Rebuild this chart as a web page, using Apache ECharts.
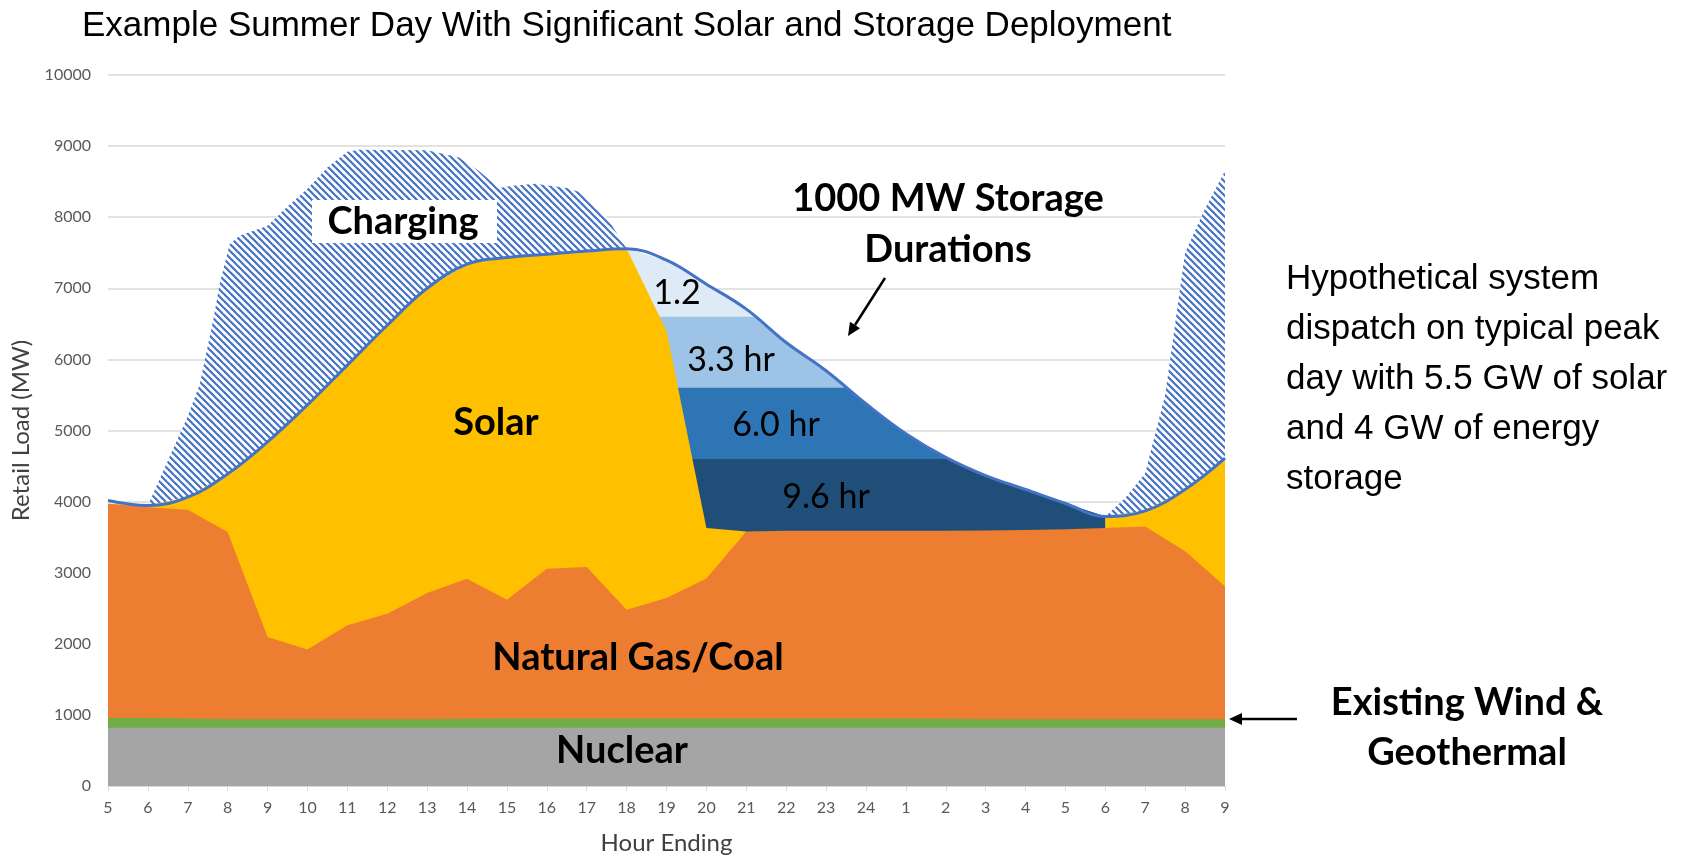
<!DOCTYPE html>
<html>
<head>
<meta charset="utf-8">
<title>Example Summer Day With Significant Solar and Storage Deployment</title>
<script src="https://cdn.jsdelivr.net/npm/echarts@6/dist/echarts.min.js"></script>
<style>
  html, body { margin: 0; padding: 0; background: #fff; }
  #chart { width: 1695px; height: 857px; }
</style>
</head>
<body>
<div id="chart"></div>
<script>
  // x position = index into hourLabels (hour ending, 5am day 1 .. 9am day 2)
  var hourLabels = ['5','6','7','8','9','10','11','12','13','14','15','16','17','18','19','20',
                    '21','22','23','24','1','2','3','4','5','6','7','8','9'];

  // retail load (the blue line), MW
  var loadMW = [4015, 3945, 4062, 4390, 4840, 5360, 5920, 6480, 7000, 7339, 7432, 7479, 7525, 7555,
                7395, 7058, 6707, 6238, 5841, 5377, 4956, 4623, 4366, 4170, 3973, 3790, 3870, 4170, 4610];

  // tops of the generation layers, MW
  var nuclearMW = [820, 820, 820, 820, 820, 820, 820, 820, 820, 820, 820, 820, 820, 820, 820,
                   820, 820, 820, 820, 820, 820, 820, 820, 820, 820, 820, 820, 820, 820];
  var windGeoMW = [955, 955, 950, 940, 940, 940, 940, 940, 940, 945, 950, 950, 950, 950, 950,
                   950, 950, 950, 950, 950, 950, 945, 940, 940, 940, 940, 940, 940, 940];
  var gasCoalMW = [3969, 3922, 3885, 3571, 2097, 1919, 2260, 2424, 2714, 2916, 2621, 3056, 3079, 2480,
                   2645, 2918, 3580, 3590, 3590, 3590, 3590, 3590, 3595, 3600, 3610, 3630, 3650, 3300, 2810];
  // solar top (null = no solar), follows the load in daylight, drops after 18
  var solarMW = [3969, 3945, 4062, 4390, 4840, 5360, 5920, 6480, 7000, 7339, 7432, 7479, 7525, 7555,
                 6400, 3630, 3580, null, null, null, null, null, null, null, null, 3790, 3870, 4170, 4610];

  // charging envelope (hatched), [x, MW]
  var chargeAM = [[1, 3945], [1.2, 4200], [2, 5200], [2.3, 5650], [2.65, 6590], [2.8, 7060], [3.05, 7620],
                  [3.3, 7740], [4, 7880], [4.5, 8150], [5, 8400], [5.5, 8700], [6, 8920], [6.3, 8950],
                  [8, 8940], [8.8, 8840], [9.3, 8650], [9.8, 8410], [10.1, 8440], [10.7, 8470],
                  [11.5, 8410], [11.9, 8340], [12.15, 8180], [12.5, 8000], [13, 7555]];
  var chargePM = [[25, 3790], [25.5, 4050], [26, 4400], [26.5, 5500], [27, 7500], [27.5, 8120], [28, 8650]];

  // storage discharge bands: flat tops until they meet the load line
  var bandNames = ['3.3 hr', '6.0 hr', '9.6 hr'];
  var bandLevels = [6600, 5600, 4600];
  var bandEnds = [16.23, 18.52, 21.09];
  var bandColors = ['#9dc3e6', '#2e75b6', '#1f4e79'];

  function pairs(arr, start) {
    return arr.map(function (v, i) { return [start + i, v]; });
  }
  function bandData(level, end) {
    var d = [[13, level], [end, level]];
    for (var i = Math.ceil(end); i <= 25; i++) d.push([i, loadMW[i]]);
    return d;
  }
  function hatch() {
    var c = document.createElement('canvas');
    c.width = c.height = 7;
    var g = c.getContext('2d');
    g.fillStyle = '#fff';
    g.fillRect(0, 0, 7, 7);
    g.strokeStyle = '#4472c4';
    g.lineWidth = 2.2;
    for (var k = -1; k <= 1; k++) {
      g.beginPath();
      g.moveTo(-1, -1 + k * 7);
      g.lineTo(8, 8 + k * 7);
      g.stroke();
    }
    return c;
  }
  function area(name, data, color) {
    return {
      name: name, type: 'line', data: data, smooth: false, connectNulls: false,
      symbol: 'none', lineStyle: { width: 0 }, areaStyle: { color: color, opacity: 1 },
      silent: true, animation: false
    };
  }
  function arrow(x1, y1, x2, y2) {
    var dx = x2 - x1, dy = y2 - y1, len = Math.sqrt(dx * dx + dy * dy);
    var ux = dx / len, uy = dy / len, bx = x2 - 13 * ux, by = y2 - 13 * uy;
    return [
      { type: 'line', z: 100, shape: { x1: x1, y1: y1, x2: bx, y2: by }, style: { stroke: '#000', lineWidth: 2.5 } },
      { type: 'polygon', z: 100, shape: { points: [[x2, y2], [bx - 6 * uy, by + 6 * ux], [bx + 6 * uy, by - 6 * ux]] },
        style: { fill: '#000' } }
    ];
  }
  function label(text, x, y, size, bold) {
    return {
      type: 'text', z: 101, x: x, y: y,
      style: { text: text, fill: '#000', align: 'center', verticalAlign: 'middle',
               font: (bold ? 'bold ' : '') + size + 'px Lato' }
    };
  }

  var hatchFill = { image: hatch(), repeat: 'repeat' };
  var series = [
    area('Charging', chargeAM, hatchFill),
    area('Charging PM', chargePM, hatchFill),
    area('1.2 hr', pairs(loadMW, 0), '#deebf7')
  ];
  for (var b = 0; b < bandLevels.length; b++) {
    series.push(area(bandNames[b], bandData(bandLevels[b], bandEnds[b]), bandColors[b]));
  }
  series.push(area('Solar', pairs(solarMW, 0), '#ffc000'));
  series.push(area('Natural Gas/Coal', pairs(gasCoalMW, 0), '#ed7d31'));
  series.push(area('Existing Wind & Geothermal', pairs(windGeoMW, 0), '#70ad47'));
  series.push(area('Nuclear', pairs(nuclearMW, 0), '#a5a5a5'));
  series.push({
    name: 'Load', type: 'line', data: pairs(loadMW, 0), smooth: 0.4, symbol: 'none',
    lineStyle: { color: '#4472c4', width: 3 }, z: 5, silent: true, animation: false
  });

  var graphics = [
    { type: 'text', z: 101, left: 82, top: 9,
      style: { text: 'Example Summer Day With Significant Solar and Storage Deployment',
               fill: '#000', font: '35px "Liberation Sans", Arial' } },
    { type: 'text', z: 101, left: 1286, top: 254,
      style: { text: 'Hypothetical system\ndispatch on typical peak\nday with 5.5 GW of solar\nand 4 GW of energy\nstorage',
               fill: '#000', font: '35px "Liberation Sans", Arial', lineHeight: 50 } },
    { type: 'rect', z: 100, shape: { x: 312, y: 200, width: 185, height: 43 }, style: { fill: '#fff' } },
    label('Charging', 403, 222, 38, true),
    label('1000 MW Storage', 948, 199, 38, true),
    label('Durations', 948, 250, 38, true),
    label('Solar', 496, 423, 38, true),
    label('Natural Gas/Coal', 638, 658, 38, true),
    label('Nuclear', 622, 751, 38, true),
    label('Existing Wind &', 1467, 703, 38, true),
    label('Geothermal', 1467, 753, 38, true),
    label('1.2', 677, 293, 34, false),
    label('3.3 hr', 731, 360, 34, false),
    label('6.0 hr', 776, 425, 34, false),
    label('9.6 hr', 826, 497, 34, false)
  ].concat(arrow(885, 278, 848, 336), arrow(1297, 719, 1229, 719));

  var chart = echarts.init(document.getElementById('chart'));
  chart.setOption({
    backgroundColor: '#fff',
    animation: false,
    grid: { left: 108, right: 470, top: 75, bottom: 71, outerBoundsMode: 'none' },
    xAxis: {
      type: 'value', min: 0, max: 28, interval: 1,
      name: 'Hour Ending', nameLocation: 'middle', nameGap: 45,
      nameTextStyle: { color: '#404040', fontSize: 24, fontFamily: 'Lato' },
      axisLine: { lineStyle: { color: '#d9d9d9' } },
      axisTick: { show: true, length: 5, lineStyle: { color: '#d9d9d9' } },
      axisLabel: { color: '#595959', fontSize: 16, fontFamily: 'Lato', margin: 14,
                   formatter: function (v) { return hourLabels[v]; } },
      splitLine: { show: false }
    },
    yAxis: {
      type: 'value', min: 0, max: 10000, interval: 1000,
      name: 'Retail Load (MW)', nameLocation: 'middle', nameGap: 70,
      nameTextStyle: { color: '#404040', fontSize: 24, fontFamily: 'Lato' },
      axisLine: { show: false }, axisTick: { show: false },
      axisLabel: { color: '#595959', fontSize: 16, fontFamily: 'Lato', margin: 17,
                   formatter: function (v) { return String(v); } },
      splitLine: { lineStyle: { color: '#d9d9d9', width: 1.5 } }
    },
    series: series,
    graphic: graphics
  });
</script>
</body>
</html>
